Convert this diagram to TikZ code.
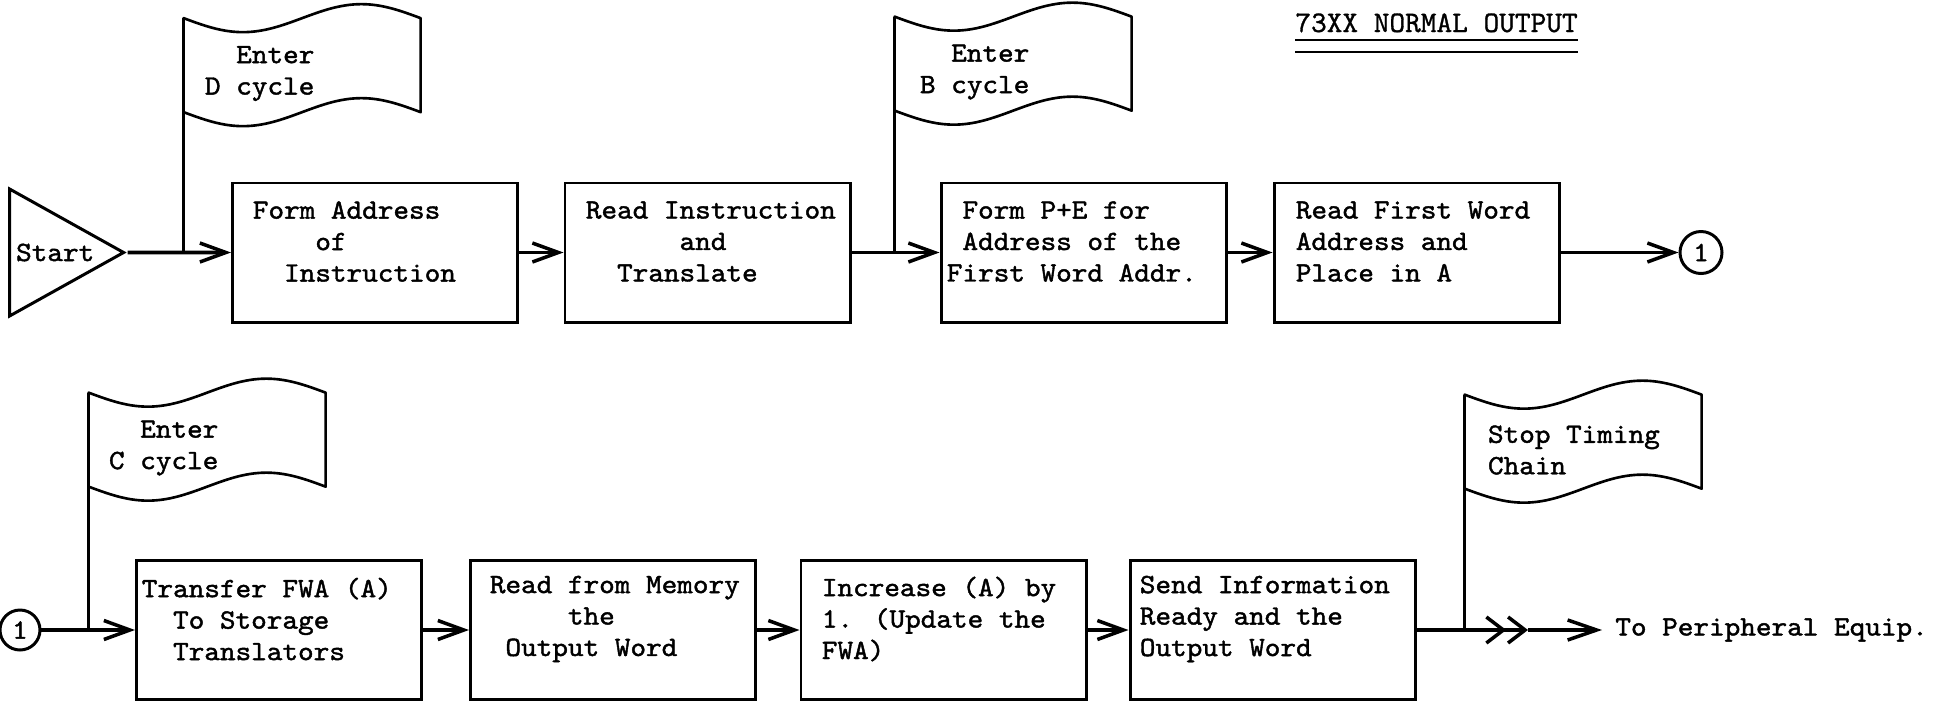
\documentclass[tikz,border=0pt]{standalone}
\usepackage{fontspec}
\usetikzlibrary{
  arrows.meta,
  positioning,
  shapes.geometric
}
\newfontfamily\typefont{lmmono10-regular.otf}[FakeStretch=1.065, FakeBold=1.5]
\newfontfamily\headfont{lmmono10-regular.otf}[FakeBold=1]
\newcommand{\typegap}[1]{\hspace*{#1\fontcharwd\font`x}}

\begin{document}
\begin{tikzpicture}[
  x=0.2mm, y=-0.2mm,
  every node/.style={font=\typefont\fontsize{15.9}{17.9}\selectfont},
  box/.style={draw, line width=1.7pt, minimum width=57mm, minimum height=27.8mm, inner sep=0},
  txt/.style={align=left, inner sep=0},
  flag/.style={minimum width=47.4mm, minimum height=18.8mm, inner sep=0},
  flagline/.style={line width=1.5pt, line join=round},
  flow/.style={line width=2pt, -{Straight Barb[length=14.8pt, width=10.8pt]}},
  conn/.style={draw, circle, line width=1.7pt, minimum size=8.4mm, inner sep=0},
  terminal/.style={draw, line width=1.7pt, isosceles triangle, isosceles triangle stretches,
                   minimum height=22.8mm, minimum width=25.4mm, inner sep=0}
]
\useasboundingbox (0,0) rectangle (1949,702);

% title
\node[font=\headfont\fontsize{17}{20}\selectfont, inner sep=0, anchor=base west] (title) at (1295,32)
  {73XX NORMAL OUTPUT};
\draw[line width=1.1pt] ([yshift=-1.6mm]title.base west) -- ([yshift=-1.6mm]title.base east);
\draw[line width=1.1pt] ([yshift=-4mm]title.base west) -- ([yshift=-4mm]title.base east);

% first row: D and B cycles
\node[terminal, anchor=apex] (start) at (127.5,252.5) {Start};
\node[box] (b1) at (375,252.5) {};
\node[box] (b2) at (707.5,252.5) {};
\node[box] (b3) at (1083.5,252.5) {};
\node[box] (b4) at (1416.5,252.5) {};
\node[conn] (c1) at (1701,252.5) {1};

\node[txt, right=4.3mm of b1.west, yshift=2.2mm] (t1)
  {Form Address\\\typegap{4}of\\\typegap{2}Instruction};
\node[txt, right=4.4mm of b2.west, yshift=2.2mm] (t2)
  {Read Instruction\\\typegap{6}and\\\typegap{2}Translate};
\node[txt, right=1.4mm of b3.west, yshift=2.2mm] (t3)
  {\typegap{1}Form P+E for\\\typegap{1}Address of the\\First Word Addr.};
\node[txt, right=4.6mm of b4.west, yshift=2.2mm] (t4)
  {Read First Word\\Address and\\Place in A};

% second row: C cycle
\node[conn, minimum size=8mm] (c2) at (20,630) {1};
\node[box] (b5) at (279,630) {};
\node[box] (b6) at (613,630) {};
\node[box] (b7) at (943.5,630) {};
\node[box] (b8) at (1272.5,630) {};
\coordinate (dbl) at (1528,630);
\node[anchor=west, inner xsep=2.6mm, inner ysep=0] (periph) at (1602,630) {To Peripheral Equip.};

\node[txt, right=1.3mm of b5.west, yshift=2.2mm] (t5)
  {Transfer FWA (A)\\\typegap{2}To Storage\\\typegap{2}Translators};
\node[txt, right=4.1mm of b6.west, yshift=2.2mm] (t6)
  {Read from Memory\\\typegap{5}the\\\typegap{1}Output Word};
\node[txt, right=4.4mm of b7.west, yshift=2.2mm] (t7)
  {Increase (A) by\\1. (Update the\\FWA)};
\node[txt, right=2.2mm of b8.west, yshift=2.2mm] (t8)
  {Send Information\\Ready and the\\Output Word};

% flags
\node[flag] (fd) at (302.5,65.5) {};
\node[flag] (fb) at (1013.5,64) {};
\node[flag] (fc) at (207.5,440) {};
\node[flag] (fs) at (1583.5,442) {};

\node[txt, right=4.2mm of fd.west, yshift=-1.6mm] (tfd) {\typegap{2}Enter\\D cycle};
\node[txt, right=5mm of fb.west, yshift=-1.6mm] (tfb) {\typegap{2}Enter\\B cycle};
\node[txt, right=4mm of fc.west, yshift=-1.6mm] (tfc) {\typegap{2}Enter\\C cycle};
\node[txt, right=4.6mm of fs.west, yshift=-1.6mm] (tfs) {Stop Timing\\Chain};

\foreach \f/\b in {fd/b1, fb/b3, fc/b5, fs/b8} {
  \draw[flagline] (\f.north west) sin ++(59.25,14) cos ++(59.25,-14) sin ++(59.25,-14) cos ++(59.25,14)
    -- ++(0,94) sin ++(-59.25,-14) cos ++(-59.25,14) sin ++(-59.25,14) cos ++(-59.25,-14) -- cycle;
  \draw[flagline] (\f.north west) -- (\f.north west |- \b);
}

% connectors
\draw[flow] (start) -- (b1);
\draw[flow] (b1) -- (b2);
\draw[flow] (b2) -- (b3);
\draw[flow] (b3) -- (b4);
\draw[flow] (b4) -- (c1);

\draw[flow] (c2) -- (b5);
\draw[flow] (b5) -- (b6);
\draw[flow] (b6) -- (b7);
\draw[flow] (b7) -- (b8);
\draw[line width=2pt, -{Straight Barb[length=9.7pt, width=14.8pt] Straight Barb[length=9.7pt, width=14.8pt]}]
  (b8) -- (dbl);
\draw[flow, -{Straight Barb[length=16.5pt, width=11.4pt]}] (dbl) -- (periph);

\end{tikzpicture}
\end{document}
